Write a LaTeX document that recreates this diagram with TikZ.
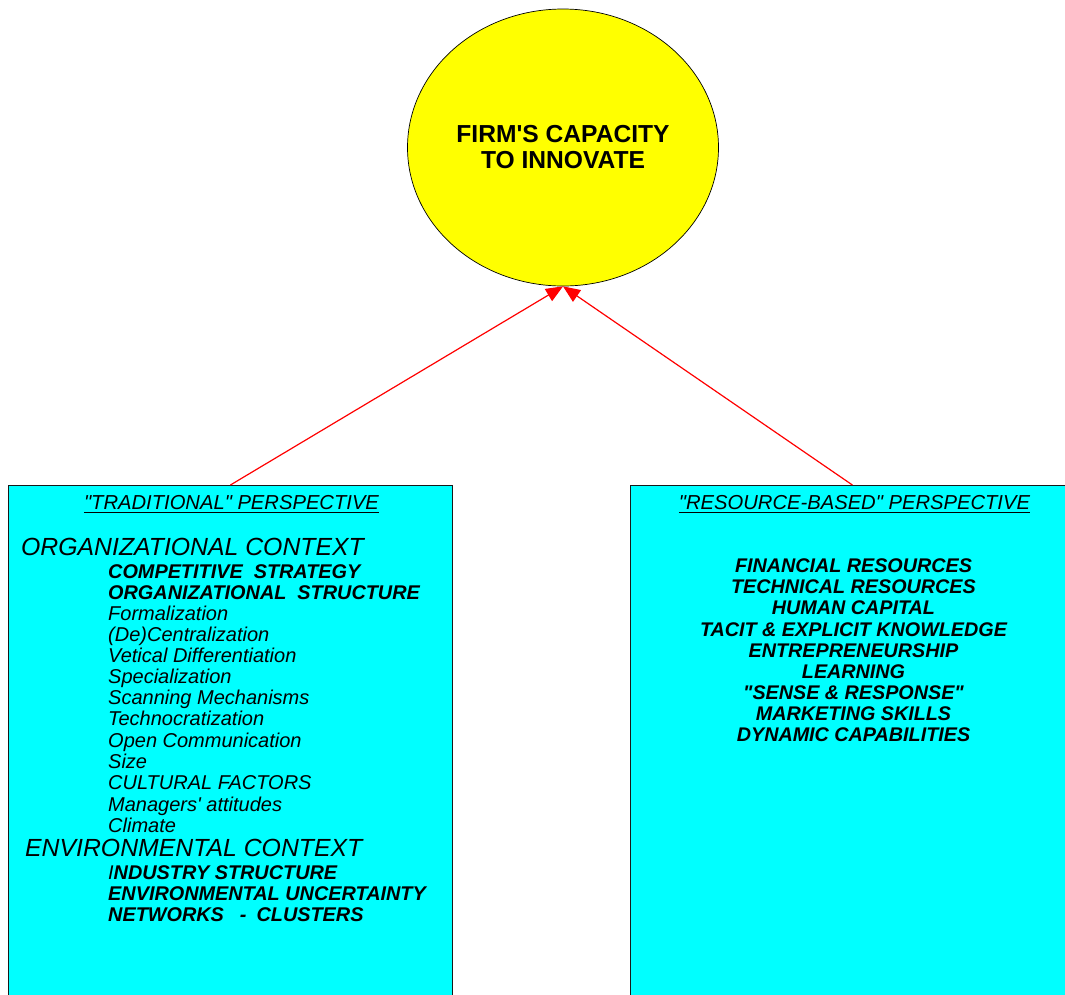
\documentclass[tikz,border=0pt]{standalone}
\usepackage{fontspec}
\setmainfont{Liberation Sans}[Ligatures=TeXOff]
\usetikzlibrary{shapes.geometric,arrows.meta}
\definecolor{cyanc}{RGB}{0,255,255}
\definecolor{yelc}{RGB}{255,255,0}
\definecolor{redc}{RGB}{255,0,0}
\begin{document}
\begin{tikzpicture}[x=1pt,y=-1pt,
 txt/.style={inner sep=0pt, anchor=base west, font=\fontsize{20}{21}\selectfont\itshape},
 bld/.style={inner sep=0pt, anchor=base west, font=\fontsize{19.85}{21}\selectfont\bfseries\itshape},
 ctx/.style={inner sep=0pt, anchor=base west, font=\fontsize{24.8}{26}\selectfont\itshape},
 ctr/.style={inner sep=0pt, anchor=base, font=\fontsize{19.75}{21}\selectfont\bfseries\itshape},
 ttl/.style={inner sep=0pt, anchor=base, font=\fontsize{20.2}{21}\selectfont\itshape},
 box/.style={draw=black!90, line width=0.8pt, fill=cyanc, anchor=north west, minimum width=444pt, minimum height=530pt, inner sep=0pt},
 arr/.style={draw=redc, line width=1.2pt, -{Triangle[length=17pt,width=14pt]}}
]
\useasboundingbox (0,0) rectangle (1065,994);
\clip (0,0) rectangle (1065,994);

% central ellipse
\node[ellipse, draw=black, line width=0.7pt, fill=yelc, minimum width=311pt, minimum height=277pt, inner sep=0pt,
      align=center, font=\fontsize{24.6}{26}\selectfont\bfseries] (firm) at (563,147.5) {FIRM'S CAPACITY\\TO INNOVATE};

% boxes
\node[box] (left) at (8,485) {};
\node[box] (right) at (630,485) {};

% arrows
\draw[arr] (left.north) -- (firm.south);
\draw[arr] (right.north) -- (firm.south);

% left box titles
\node[ttl] (ltitle) at (231.5,509) {"TRADITIONAL" PERSPECTIVE};
\draw[line width=0.9pt] ([yshift=-3pt]ltitle.base west) -- ([yshift=-3pt]ltitle.base east);
\node[ctx] (orgctx) at (21,555) {ORGANIZATIONAL CONTEXT};
\node[ctx] (envctx) at (25,856) {ENVIRONMENTAL CONTEXT};

\node[bld] (b1) at (108,578) {COMPETITIVE\ \ STRATEGY};
\node[bld] (b2) at (108,599) {ORGANIZATIONAL\ \ STRUCTURE};
\foreach \t/\y [count=\i] in {Formalization/620, (De)Centralization/641, Vetical Differentiation/662,
  Specialization/683, Scanning Mechanisms/704, Technocratization/725, Open Communication/747,
  Size/768, CULTURAL FACTORS/789, Managers' attitudes/811, Climate/832}
  \node[txt] (li\i) at (108,\y) {\t};
\node[bld] (b3) at (108,879) {{\mdseries I}NDUSTRY STRUCTURE};
\node[bld] (b4) at (108,900) {ENVIRONMENTAL UNCERTAINTY};
\node[bld] (b5) at (108,921) {NETWORKS\hspace{16pt}-\hspace{10pt}CLUSTERS};

% right box
\node[ttl] (rtitle) at (854.5,509) {"RESOURCE-BASED" PERSPECTIVE};
\draw[line width=0.9pt] ([yshift=-3pt]rtitle.base west) -- ([yshift=-3pt]rtitle.base east);
\foreach \t/\y [count=\i] in {FINANCIAL RESOURCES/572, TECHNICAL RESOURCES/593, HUMAN CAPITAL/614,
  TACIT \& EXPLICIT KNOWLEDGE/636, ENTREPRENEURSHIP/657, LEARNING/678,
  "SENSE \& RESPONSE"/699, MARKETING SKILLS/720, DYNAMIC CAPABILITIES/741}
  \node[ctr] (ri\i) at (853.5,\y) {\t};
\end{tikzpicture}
\end{document}
